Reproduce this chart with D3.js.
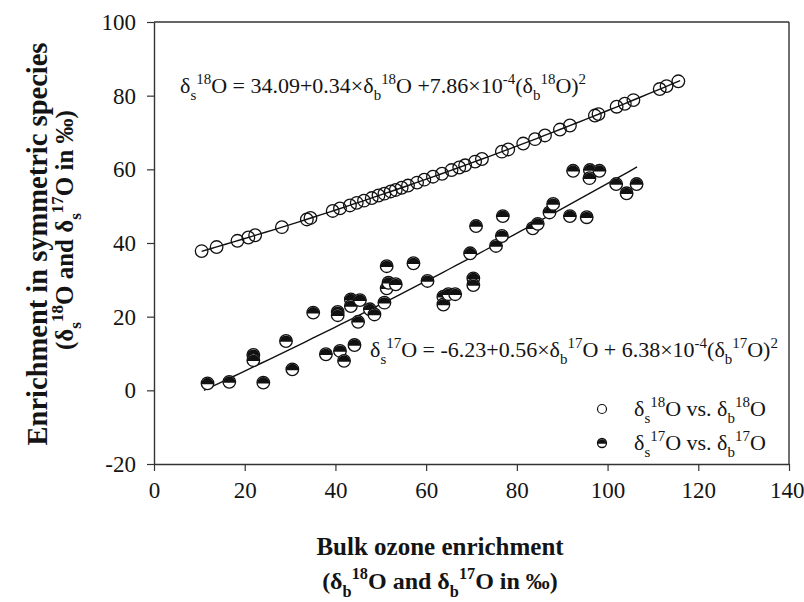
<!DOCTYPE html>
<html><head><meta charset="utf-8">
<script src="https://cdn.jsdelivr.net/npm/d3@7"></script>
<style>
body{margin:0;background:#fff;}
svg text{font-family:"Liberation Serif","Times New Roman",serif;fill:#141414;}
</style></head>
<body>
<svg id="c" width="804" height="602"></svg>
<script>
// ---- data ----
const xTicks = [0, 20, 40, 60, 80, 100, 120, 140];
const yTicks = [-20, 0, 20, 40, 60, 80, 100];

// delta_s 18O vs delta_b 18O (open circles)
const o18X = [10.5, 13.8, 18.4, 20.8, 22.3, 28.2, 33.7, 34.5, 39.4, 41.0, 43.2, 44.7, 46.3, 48.0, 49.5, 50.8, 52.2, 53.3, 54.6, 56.0, 58.0, 59.6, 61.5, 63.5, 65.6, 67.3, 68.6, 70.8, 72.3, 76.7, 78.1, 81.4, 84.0, 86.2, 89.5, 91.7, 97.2, 98.0, 102.0, 103.8, 105.7, 111.5, 113.0, 115.6];
const o18Y = [37.8, 38.9, 40.6, 41.5, 42.1, 44.3, 46.4, 46.8, 48.7, 49.4, 50.2, 50.9, 51.5, 52.2, 52.9, 53.4, 54.0, 54.4, 55.0, 55.6, 56.4, 57.2, 58.0, 58.8, 59.8, 60.5, 61.1, 62.1, 62.8, 64.8, 65.4, 67.0, 68.2, 69.2, 70.8, 71.9, 74.6, 75.0, 77.0, 77.8, 78.8, 81.8, 82.6, 83.9];

// delta_s 17O vs delta_b 17O (half-filled circles)
const o17X = [11.8, 16.6, 21.9, 21.9, 24.1, 29.1, 30.5, 35.1, 37.9, 40.5, 40.5, 41.0, 41.9, 43.4, 43.4, 44.2, 45.4, 45.0, 47.6, 48.6, 50.8, 51.3, 51.3, 51.7, 53.3, 57.2, 60.3, 63.8, 63.8, 64.9, 66.4, 69.7, 70.4, 70.4, 71.0, 75.4, 76.7, 76.9, 83.5, 84.6, 87.2, 88.0, 91.7, 95.4, 92.4, 96.1, 98.2, 96.0, 101.9, 104.2, 106.4];
const o17Y = [1.9, 2.3, 9.6, 8.2, 2.1, 13.4, 5.7, 21.1, 9.8, 21.3, 20.4, 10.7, 8.0, 24.7, 22.9, 12.3, 24.5, 18.6, 22.0, 20.6, 23.8, 33.7, 27.7, 29.2, 28.8, 34.5, 29.7, 25.4, 23.3, 26.1, 26.1, 37.2, 30.4, 28.6, 44.6, 39.2, 41.9, 47.3, 44.0, 45.2, 48.3, 50.6, 47.3, 47.0, 59.6, 59.8, 59.6, 57.6, 56.0, 53.5, 56.0];

// fit coefficients [a, b, c] : y = a + b x + c x^2, and fitted x-range
const fit18 = [34.09, 0.34, 7.86e-4];
const fit18Range = [10.5, 116];
const fit17 = [-6.23, 0.56, 6.38e-4];
const fit17Range = [11, 106.5];

// ---- chart ----
const svg = d3.select("#c");
const x = d3.scaleLinear().domain([0, 140]).range([154, 789]);
const y = d3.scaleLinear().domain([-20, 100]).range([464, 22]);
const axisColor = "#333";

// frame (top & right)
svg.append("line").attr("x1", x(0)).attr("x2", x(140)).attr("y1", y(100)).attr("y2", y(100)).attr("stroke", axisColor).attr("stroke-width", 1.4);
svg.append("line").attr("x1", x(140)).attr("x2", x(140)).attr("y1", y(100)).attr("y2", y(-20)).attr("stroke", axisColor).attr("stroke-width", 1.4);

const fmt = d => String(d);
const gx = svg.append("g").attr("transform", `translate(0,${y(-20)})`)
  .call(d3.axisBottom(x).tickValues(xTicks).tickFormat(fmt).tickSize(7).tickSizeOuter(0).tickPadding(11));
const gy = svg.append("g").attr("transform", `translate(${x(0)},0)`)
  .call(d3.axisLeft(y).tickValues(yTicks).tickFormat(fmt).tickSize(7).tickSizeOuter(0).tickPadding(11));
[gx, gy].forEach(g => {
  g.select(".domain").attr("stroke", axisColor).attr("stroke-width", 1.4);
  g.selectAll(".tick line").attr("stroke", axisColor).attr("stroke-width", 1.2);
  g.selectAll(".tick text").attr("font-size", 23).attr("font-family", "Liberation Serif").attr("fill", "#141414");
});
// last x label sits at the picture's right edge: keep it inside
gx.selectAll(".tick text").filter(d => d === 140).attr("text-anchor", "end").attr("x", 15);

// fit curves
function fitPts(c, r) {
  const pts = [];
  const n = 60;
  for (let i = 0; i <= n; i++) {
    const xv = r[0] + (r[1] - r[0]) * i / n;
    pts.push([xv, c[0] + c[1] * xv + c[2] * xv * xv]);
  }
  return pts;
}
const line = d3.line().x(d => x(d[0])).y(d => y(d[1]));
svg.append("path").attr("d", line(fitPts(fit18, fit18Range))).attr("fill", "none").attr("stroke", "#111").attr("stroke-width", 1.4);
svg.append("path").attr("d", line(fitPts(fit17, fit17Range))).attr("fill", "none").attr("stroke", "#111").attr("stroke-width", 1.4);

// markers
const R = 6.3;
const d18 = o18X.map((v, i) => [v, o18Y[i]]);
const d17 = o17X.map((v, i) => [v, o17Y[i]]);
svg.append("g").selectAll("circle").data(d18).join("circle")
  .attr("cx", d => x(d[0])).attr("cy", d => y(d[1])).attr("r", R)
  .attr("fill", "none").attr("stroke", "#111").attr("stroke-width", 1.3);

function halfMarker(g, r) {
  g.append("circle").attr("r", r).attr("fill", "#fff").attr("stroke", "#111").attr("stroke-width", 1.3);
  g.append("path").attr("d", `M${-r},0.8 A${r},${r} 0 1 1 ${r},0.8 Z`).attr("fill", "#111");
}
svg.append("g").selectAll("g").data(d17).join("g")
  .attr("transform", d => `translate(${x(d[0])},${y(d[1])})`)
  .each(function () { halfMarker(d3.select(this), R); });

// rich text helper
function rich(parent, xx, yy, segs, fs, opts = {}) {
  const t = parent.append("text").attr("x", xx).attr("y", yy).attr("font-size", fs);
  if (opts.anchor) t.attr("text-anchor", opts.anchor);
  if (opts.weight) t.attr("font-weight", opts.weight);
  if (opts.transform) t.attr("transform", opts.transform);
  let off = 0;
  segs.forEach(s => {
    const [txt, kind] = typeof s === "string" ? [s, "n"] : s;
    let target = 0, size = fs;
    if (kind === "sub") { target = 0.32 * fs; size = 0.68 * fs; }
    if (kind === "sup") { target = -0.42 * fs; size = 0.68 * fs; }
    t.append("tspan").attr("dy", target - off).attr("font-size", size).text(txt);
    off = target;
  });
  return t;
}

// equations
rich(svg, 180, 93, ["δ", ["s", "sub"], ["18", "sup"], "O = 34.09+0.34×δ", ["b", "sub"], ["18", "sup"], "O +7.86×10", ["-4", "sup"], "(δ", ["b", "sub"], ["18", "sup"], "O)", ["2", "sup"]], 22);
rich(svg, 370, 357, ["δ", ["s", "sub"], ["17", "sup"], "O = -6.23+0.56×δ", ["b", "sub"], ["17", "sup"], "O + 6.38×10", ["-4", "sup"], "(δ", ["b", "sub"], ["17", "sup"], "O)", ["2", "sup"]], 22);

// legend
svg.append("circle").attr("cx", 602).attr("cy", 409).attr("r", 4.5).attr("fill", "none").attr("stroke", "#111").attr("stroke-width", 1.2);
const lg = svg.append("g").attr("transform", "translate(602,443)");
halfMarker(lg, 4.5);
rich(svg, 634, 416, ["δ", ["s", "sub"], ["18", "sup"], "O vs. δ", ["b", "sub"], ["18", "sup"], "O"], 22);
rich(svg, 634, 450, ["δ", ["s", "sub"], ["17", "sup"], "O vs. δ", ["b", "sub"], ["17", "sup"], "O"], 22);

// axis titles
rich(svg, 440, 555, ["Bulk ozone enrichment"], 25, { anchor: "middle", weight: "bold" });
rich(svg, 440, 589, ["(δ", ["b", "sub"], ["18", "sup"], "O and δ", ["b", "sub"], ["17", "sup"], "O in ‰)"], 24, { anchor: "middle", weight: "bold" });
rich(svg, 0, 0, ["Enrichment in symmetric species"], 28.5, { anchor: "middle", weight: "bold", transform: "translate(47,244) rotate(-90)" });
rich(svg, 0, 0, ["(δ", ["s", "sub"], ["18", "sup"], "O and δ", ["s", "sub"], ["17", "sup"], "O in ‰)"], 25, { anchor: "middle", weight: "bold", transform: "translate(73,230) rotate(-90)" });
</script>
</body></html>
